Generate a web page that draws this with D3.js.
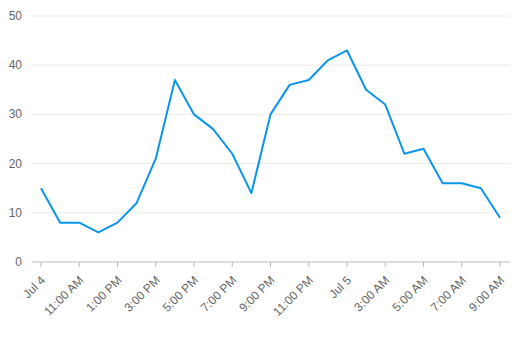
<!DOCTYPE html>
<html>
<head>
<meta charset="utf-8">
<script src="https://cdn.jsdelivr.net/npm/d3@7"></script>
<style>
  body { margin: 0; background: #fff; }
  svg text { font-family: "Liberation Sans", Arial, sans-serif; }
</style>
</head>
<body>
<div id="chart"></div>
<script>
// hourly readings, 9 AM Jul 4 -> 9 AM Jul 5
var hours = d3.range(25);
var values = [15, 8, 8, 6, 8, 12, 21, 37, 30, 27, 22, 14, 30, 36, 37, 41, 43, 35, 32, 22, 23, 16, 16, 15, 9];
var tickLabels = ["Jul 4", "11:00 AM", "1:00 PM", "3:00 PM", "5:00 PM", "7:00 PM", "9:00 PM",
  "11:00 PM", "Jul 5", "3:00 AM", "5:00 AM", "7:00 AM", "9:00 AM"];
var yTicks = [0, 10, 20, 30, 40, 50];

var width = 517, height = 337;

var svg = d3.select("#chart")
  .append("svg")
  .attr("width", width)
  .attr("height", height);

var x = d3.scaleLinear().domain([0, 24]).range([41, 500]);
var y = d3.scaleLinear().domain([0, 50]).range([262, 16]);

// gridlines
svg.selectAll("line.grid")
  .data(yTicks.slice(1))
  .enter()
  .append("line")
  .attr("class", "grid")
  .attr("x1", 32)
  .attr("x2", 510)
  .attr("y1", function(d) { return y(d); })
  .attr("y2", function(d) { return y(d); })
  .attr("stroke", "#ececec");

// y labels
svg.selectAll("text.ylab")
  .data(yTicks)
  .enter()
  .append("text")
  .attr("class", "ylab")
  .attr("x", 22)
  .attr("y", function(d) { return y(d) + 4; })
  .attr("text-anchor", "end")
  .attr("font-size", 12)
  .attr("fill", "#666")
  .text(function(d) { return d; });

// x axis line
svg.append("line")
  .attr("x1", 32)
  .attr("x2", 510)
  .attr("y1", y(0))
  .attr("y2", y(0))
  .attr("stroke", "#bbb");

var tickPos = tickLabels.map(function(d, i) { return i * 2; });

svg.selectAll("line.tick")
  .data(tickPos)
  .enter()
  .append("line")
  .attr("class", "tick")
  .attr("x1", function(d) { return x(d); })
  .attr("x2", function(d) { return x(d); })
  .attr("y1", y(0))
  .attr("y2", y(0) + 5)
  .attr("stroke", "#bbb");

svg.selectAll("text.xlab")
  .data(tickLabels)
  .enter()
  .append("text")
  .attr("class", "xlab")
  .attr("text-anchor", "end")
  .attr("font-size", 12)
  .attr("fill", "#666")
  .attr("transform", function(d, i) {
    return "translate(" + (x(i * 2) + 5) + "," + (y(0) + 19) + ") rotate(-45)";
  })
  .text(function(d) { return d; });

var line = d3.line()
  .x(function(d, i) { return x(hours[i]); })
  .y(function(d) { return y(d); });

svg.append("path")
  .datum(values)
  .attr("fill", "none")
  .attr("stroke", "#0a96e8")
  .attr("stroke-width", 2)
  .attr("stroke-linejoin", "round")
  .attr("d", line);
</script>
</body>
</html>
